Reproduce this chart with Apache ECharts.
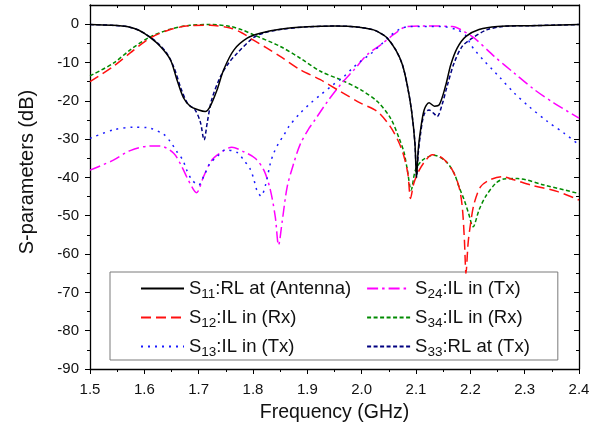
<!DOCTYPE html>
<html>
<head>
<meta charset="utf-8">
<style>
  html, body { margin: 0; padding: 0; background: #fff; }
  #chart { width: 608px; height: 432px; }
</style>
<script src="https://cdn.jsdelivr.net/npm/echarts@6/dist/echarts.min.js"></script>
</head>
<body>
<div id="chart"></div>
<script>
// Frequency axis (GHz) and dB axis settings
const freqMin = 1.5, freqMax = 2.4, freqStep = 0.1;
const dbMin = -90, dbMax = 5;
const dbMajorTicks = [-90, -80, -70, -60, -50, -40, -30, -20, -10, 0];
const dbMinorTicks = [-85, -75, -65, -55, -45, -35, -25, -15, -5];

// Legend text: port pair + description
const portNames = ['S11', 'S12', 'S13', 'S24', 'S34', 'S33'];
const portDescriptions = [':RL at (Antenna)', ':IL in (Rx)', ':IL in (Tx)', ':IL in (Tx)', ':IL in (Rx)', ':RL at (Tx)'];

// Measured responses: [frequency GHz, magnitude dB]
const s11 = [[1.50,-0.1],[1.54,-0.3],[1.57,-0.7],[1.59,-1.6],[1.61,-3.4],[1.63,-5.9],[1.648,-9.3],[1.66,-14.5],[1.672,-19.2],[1.685,-21.5],[1.70,-22.4],[1.712,-22.8],[1.721,-21.5],[1.734,-17.1],[1.746,-11.9],[1.765,-6.7],[1.79,-3.6],[1.815,-2.3],[1.85,-1.3],[1.90,-0.7],[1.95,-0.5],[1.98,-0.6],[2.005,-1.0],[2.022,-1.5],[2.035,-2.4],[2.047,-3.6],[2.063,-6.8],[2.075,-10.6],[2.084,-16.0],[2.092,-22.8],[2.098,-31.0],[2.101,-40.0],[2.104,-33.0],[2.108,-28.0],[2.115,-22.4],[2.124,-20.5],[2.134,-21.4],[2.143,-21.0],[2.155,-15.8],[2.164,-10.6],[2.176,-6.2],[2.192,-3.2],[2.216,-1.4],[2.25,-0.6],[2.31,-0.4],[2.40,-0.1]];

const s12 = [[1.50,-15.0],[1.543,-11.0],[1.574,-7.5],[1.611,-3.6],[1.648,-1.4],[1.684,-0.4],[1.721,-0.3],[1.758,-1.0],[1.78,-2.3],[1.80,-4.1],[1.825,-6.2],[1.85,-8.4],[1.887,-11.9],[1.924,-14.5],[1.961,-17.6],[1.998,-20.6],[2.029,-22.8],[2.053,-26.8],[2.069,-31.0],[2.078,-34.6],[2.085,-39.0],[2.09,-45.5],[2.096,-41.5],[2.106,-38.1],[2.118,-35.5],[2.13,-34.1],[2.149,-35.0],[2.167,-38.1],[2.179,-42.4],[2.185,-47.5],[2.189,-56.0],[2.192,-65.0],[2.196,-57.0],[2.201,-51.5],[2.207,-46.8],[2.219,-42.4],[2.235,-40.7],[2.259,-39.8],[2.28,-40.6],[2.312,-42.0],[2.361,-43.7],[2.40,-45.9]];

const s13 = [[1.50,-29.8],[1.543,-27.6],[1.58,-26.9],[1.605,-27.0],[1.635,-28.7],[1.648,-30.7],[1.66,-33.3],[1.671,-35.5],[1.678,-38.1],[1.688,-40.7],[1.70,-42.0],[1.709,-39.8],[1.721,-36.3],[1.734,-34.6],[1.749,-32.8],[1.771,-33.5],[1.783,-35.5],[1.794,-37.6],[1.801,-40.2],[1.807,-43.3],[1.815,-44.9],[1.823,-42.0],[1.832,-36.3],[1.838,-33.7],[1.847,-31.1],[1.857,-28.9],[1.866,-26.7],[1.887,-23.2],[1.906,-20.6],[1.924,-18.5],[1.943,-16.3],[1.967,-13.7],[1.983,-11.5],[1.998,-9.7],[2.016,-7.8],[2.035,-5.4],[2.053,-3.0],[2.07,-1.3],[2.09,-0.6],[2.146,-0.6],[2.176,-1.5],[2.192,-3.0],[2.201,-5.4],[2.21,-7.1],[2.225,-9.5],[2.241,-11.9],[2.253,-13.7],[2.281,-18.0],[2.308,-21.5],[2.342,-25.4],[2.373,-28.5],[2.40,-31.5]];

const s24 = [[1.50,-38.1],[1.543,-35.5],[1.574,-33.0],[1.611,-31.8],[1.629,-31.8],[1.654,-33.7],[1.669,-37.2],[1.681,-40.7],[1.696,-44.0],[1.709,-39.8],[1.724,-35.5],[1.743,-33.3],[1.761,-32.1],[1.783,-33.3],[1.804,-35.0],[1.82,-38.1],[1.832,-43.3],[1.841,-50.3],[1.847,-57.7],[1.854,-51.2],[1.863,-42.4],[1.875,-36.3],[1.887,-31.3],[1.903,-27.2],[1.912,-25.4],[1.937,-20.2],[1.961,-15.8],[1.986,-11.9],[2.01,-8.0],[2.035,-5.4],[2.059,-2.7],[2.084,-0.6],[2.12,-0.5],[2.167,-0.6],[2.182,-1.4],[2.207,-3.6],[2.244,-8.4],[2.281,-12.8],[2.318,-17.1],[2.354,-20.6],[2.40,-24.5]];

const s34 = [[1.50,-13.5],[1.543,-10.2],[1.574,-6.7],[1.611,-3.3],[1.648,-1.3],[1.684,-0.3],[1.721,-0.1],[1.758,-0.6],[1.78,-1.5],[1.80,-2.7],[1.85,-5.8],[1.887,-8.9],[1.924,-12.3],[1.961,-14.5],[1.998,-17.1],[2.029,-20.2],[2.053,-24.5],[2.069,-29.8],[2.078,-33.5],[2.084,-38.0],[2.091,-43.3],[2.099,-38.1],[2.112,-35.5],[2.133,-34.2],[2.155,-35.8],[2.17,-38.9],[2.179,-42.4],[2.189,-46.0],[2.197,-49.5],[2.205,-52.9],[2.216,-48.5],[2.228,-45.0],[2.247,-41.5],[2.262,-40.4],[2.287,-40.3],[2.336,-42.0],[2.40,-44.2]];

const s33 = [[1.50,-0.1],[1.54,-0.3],[1.57,-0.7],[1.59,-1.6],[1.61,-3.3],[1.625,-5.0],[1.641,-7.5],[1.655,-11.5],[1.668,-17.0],[1.68,-20.8],[1.693,-22.3],[1.703,-25.5],[1.710,-30.2],[1.716,-25.5],[1.724,-19.7],[1.74,-13.7],[1.755,-10.2],[1.77,-7.7],[1.80,-3.6],[1.82,-2.3],[1.85,-1.4],[1.90,-0.7],[1.95,-0.5],[1.98,-0.6],[2.005,-1.0],[2.022,-1.5],[2.035,-2.4],[2.047,-3.6],[2.063,-6.8],[2.075,-10.6],[2.084,-16.0],[2.092,-22.8],[2.098,-31.0],[2.101,-40.0],[2.104,-34.0],[2.108,-29.0],[2.115,-23.5],[2.124,-22.4],[2.132,-23.2],[2.139,-24.1],[2.148,-21.0],[2.158,-15.8],[2.17,-10.2],[2.185,-5.8],[2.204,-3.6],[2.23,-1.5],[2.26,-0.6],[2.31,-0.4],[2.40,-0.1]];

const seriesData = { S11: s11, S12: s12, S13: s13, S24: s24, S34: s34, S33: s33 };

const FONT = '"Liberation Sans", Arial, sans-serif';
const INK = '#111';

const lineStyles = {
  S11: { color: '#000000', type: 'solid' },
  S12: { color: '#ff1010', type: [10, 5] },
  S13: { color: '#1a1aff', type: [2, 5] },
  S24: { color: '#ff00ff', type: [11, 4, 2.5, 4] },
  S34: { color: '#008a00', type: [4, 2.5] },
  S33: { color: '#000080', type: [4, 2.5] }
};

const fullName = i => portNames[i] + portDescriptions[i];

const series = portNames.map((p, i) => ({
  name: fullName(i),
  type: 'line',
  xAxisIndex: 0,
  yAxisIndex: 0,
  data: seriesData[p],
  symbol: 'none',
  smooth: 0.3,
  z: 10 - i,
  lineStyle: { width: 1.5, color: lineStyles[p].color, type: lineStyles[p].type },
  itemStyle: { color: lineStyles[p].color },
  emphasis: { disabled: true },
  animation: false
}));

const axisLineStyle = { color: '#000', width: 1.3 };

const chart = echarts.init(document.getElementById('chart'), null, { renderer: 'canvas' });
chart.setOption({
  animation: false,
  backgroundColor: '#fff',
  grid: { left: 90, right: 29, top: 5, bottom: 63, outerBoundsMode: 'none', containLabel: false },
  legend: {
    orient: 'vertical',
    left: 110,
    top: 272,
    height: 82,
    itemGap: 7,
    itemWidth: 43,
    itemHeight: 14,
    padding: [7, 20, 1, 30],
    borderColor: '#7a7a7a',
    borderWidth: 1,
    borderRadius: 0,
    backgroundColor: '#fff',
    selectedMode: false,
    itemStyle: { opacity: 0 },
    data: portNames.map((p, i) => fullName(i)),
    formatter: name => '{m|S}{s|' + name.slice(1, 3) + '}{d|' + name.slice(3) + '}',
    textStyle: {
      rich: {
        m: { fontSize: 18.5, fontFamily: FONT, color: INK, lineHeight: 19 },
        s: { fontSize: 13.5, fontFamily: FONT, color: INK, padding: [11, 0, 0, 0] },
        d: { fontSize: 18.5, fontFamily: FONT, color: INK, lineHeight: 19, padding: [0, 8, 0, 0] }
      }
    }
  },
  xAxis: [
    {
      type: 'value', position: 'bottom', min: freqMin, max: freqMax, interval: freqStep,
      axisLine: { show: true, onZero: false, lineStyle: axisLineStyle },
      axisTick: { show: true, inside: false, length: 5, lineStyle: { color: '#000', width: 1 } },
      minorTick: { show: true, splitNumber: 2, length: 3, lineStyle: { color: '#000', width: 1 } },
      splitLine: { show: false },
      axisLabel: { margin: 13, fontSize: 15, fontFamily: FONT, color: INK, formatter: v => v.toFixed(1) },
      name: 'Frequency (GHz)', nameLocation: 'middle', nameGap: 34,
      nameTextStyle: { fontSize: 19.5, fontFamily: FONT, color: INK }
    },
    {
      type: 'value', position: 'top', min: freqMin, max: freqMax, interval: freqStep,
      axisLine: { show: true, onZero: false, lineStyle: axisLineStyle },
      axisTick: { show: true, inside: true, length: 5, lineStyle: { color: '#000', width: 1 } },
      minorTick: { show: true, splitNumber: 2, length: 3, lineStyle: { color: '#000', width: 1 } },
      splitLine: { show: false },
      axisLabel: { show: false }
    }
  ],
  yAxis: [
    {
      type: 'value', position: 'left', min: dbMin, max: dbMax,
      axisLine: { show: true, onZero: false, lineStyle: axisLineStyle },
      axisTick: { show: true, inside: false, length: 5, customValues: dbMajorTicks, lineStyle: { color: '#000', width: 1 } },
      axisLabel: { margin: 11, fontSize: 15, fontFamily: FONT, color: INK, customValues: dbMajorTicks },
      splitLine: { show: false }
    },
    {
      type: 'value', position: 'left', min: dbMin, max: dbMax,
      axisLine: { show: false, onZero: false },
      axisTick: { show: true, inside: false, length: 3, customValues: dbMinorTicks, lineStyle: { color: '#000', width: 1 } },
      axisLabel: { show: false },
      splitLine: { show: false }
    },
    {
      type: 'value', position: 'right', min: dbMin, max: dbMax,
      axisLine: { show: true, onZero: false, lineStyle: axisLineStyle },
      axisTick: { show: true, inside: true, length: 5, customValues: dbMajorTicks, lineStyle: { color: '#000', width: 1 } },
      axisLabel: { show: false },
      splitLine: { show: false }
    },
    {
      type: 'value', position: 'right', min: dbMin, max: dbMax,
      axisLine: { show: false, onZero: false },
      axisTick: { show: true, inside: true, length: 3, customValues: dbMinorTicks, lineStyle: { color: '#000', width: 1 } },
      axisLabel: { show: false },
      splitLine: { show: false }
    }
  ],
  graphic: [
    {
      type: 'text',
      x: 27, y: 172,
      rotation: Math.PI / 2,
      style: {
        text: 'S-parameters (dB)',
        fontSize: 20, fontFamily: FONT, fill: INK,
        align: 'center', verticalAlign: 'middle'
      }
    }
  ],
  series: series
});
</script>
</body>
</html>
